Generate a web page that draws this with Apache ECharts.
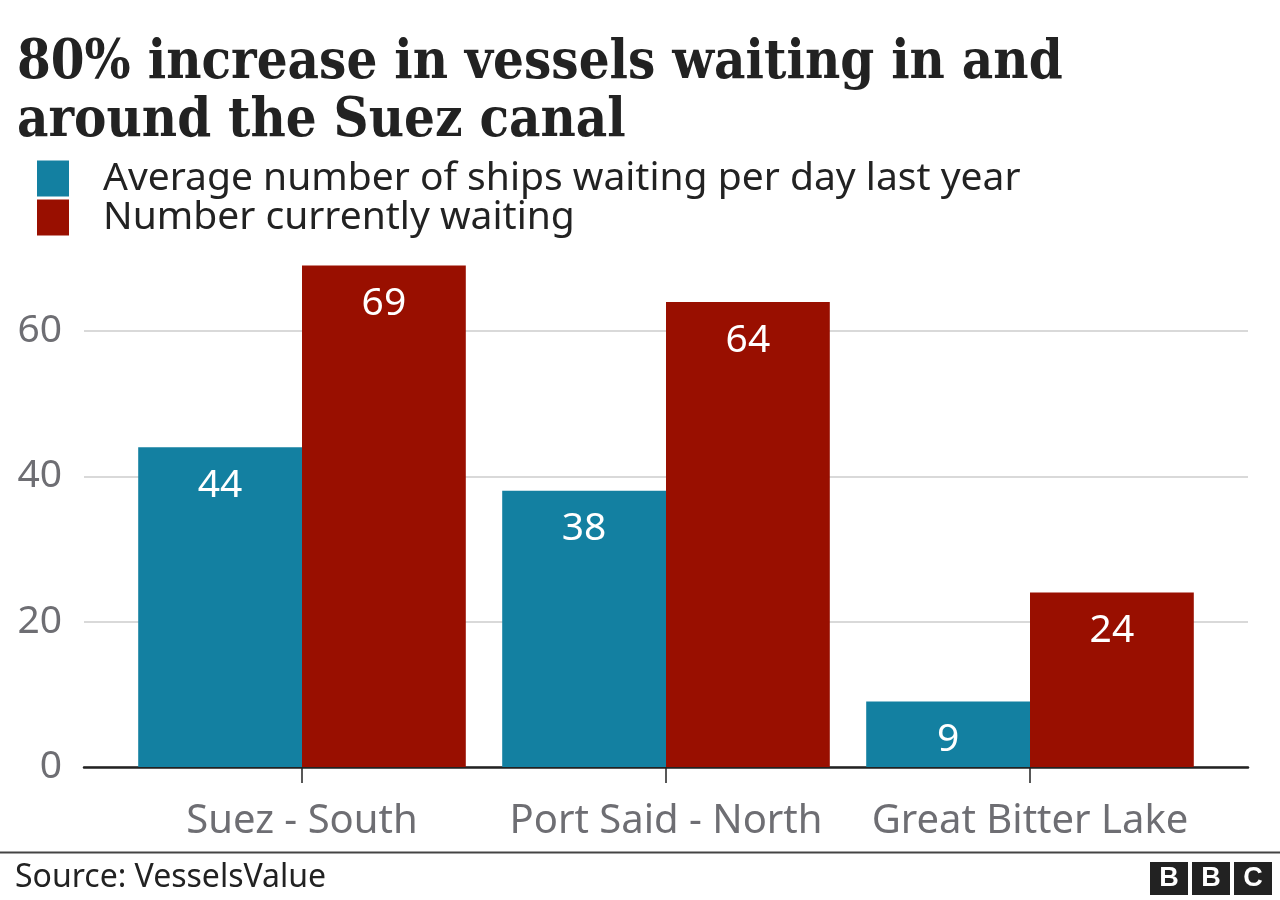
<!DOCTYPE html>
<html>
<head>
<meta charset="utf-8">
<script src="https://cdn.jsdelivr.net/npm/echarts@6/dist/echarts.min.js"></script>
<style>
html,body{margin:0;padding:0;background:#fff;}
#chart{width:1280px;height:900px;}
</style>
</head>
<body>
<div id="chart"></div>
<script>
const categories = ['Suez - South', 'Port Said - North', 'Great Bitter Lake'];
const lastYearAvg = [44, 38, 9];
const currentlyWaiting = [69, 64, 24];
const seriesNames = ['Average number of ships waiting per day last year', 'Number currently waiting'];
const yTicks = [0, 20, 40, 60];

const BLUE = '#1380A1';
const RED = '#990F00';
const SANS = '"Noto Sans", "Liberation Sans", sans-serif';
const SERIF = '"DejaVu Serif Condensed", "DejaVu Serif", serif';

const chart = echarts.init(document.getElementById('chart'), null, {renderer: 'canvas'});

const yMax = 70;
const plotTop = 258.3;
const plotBottom = 133;

const option = {
  animation: false,
  backgroundColor: '#ffffff',
  title: {
    text: '80% increase in vessels waiting in and\naround the Suez canal',
    left: 12,
    top: 30,
    padding: 5,
    textStyle: {
      fontFamily: SERIF,
      fontWeight: 'bold',
      fontSize: 54,
      lineHeight: 58,
      color: '#222222'
    }
  },
  legend: {
    orient: 'vertical',
    left: 37,
    top: 159,
    padding: 0,
    itemWidth: 32,
    itemHeight: 36,
    itemGap: 0,
    icon: 'rect',
    selectedMode: false,
    data: seriesNames,
    textStyle: {
      fontFamily: SANS,
      fontSize: 39,
      lineHeight: 36,
      color: '#222222',
      padding: [0, 0, 0, 29]
    }
  },
  grid: [
    {left: 84, right: 32, top: plotTop, bottom: plotBottom, containLabel: false},
    {left: 120, right: 68, top: plotTop, bottom: plotBottom, containLabel: false}
  ],
  xAxis: [
    {
      gridIndex: 0, type: 'value', min: 0, max: 1,
      axisLine: {show: true, onZero: false, lineStyle: {color: '#222222', width: 2.5}},
      axisTick: {show: false}, axisLabel: {show: false}, splitLine: {show: false}
    },
    {
      gridIndex: 1, type: 'category', data: categories,
      axisLine: {show: false},
      axisTick: {show: true, interval: 0, alignWithLabel: true, length: 16, lineStyle: {color: '#222222', width: 1.5}},
      axisLabel: {interval: 0, fontFamily: SANS, fontSize: 40, color: '#6E6E73', margin: 35},
      splitLine: {show: false}
    }
  ],
  yAxis: [
    {
      gridIndex: 0, type: 'value', min: 0, max: yMax, interval: 20,
      axisLine: {show: false}, axisTick: {show: false},
      axisLabel: {fontFamily: SANS, fontSize: 39, color: '#6E6E73', margin: 22, showMaxLabel: false,
        formatter: v => yTicks.includes(v) ? String(v) : ''},
      splitLine: {show: true, showMaxLine: false, lineStyle: {color: '#CCCCCC', width: 1.5}}
    },
    {
      gridIndex: 1, type: 'value', min: 0, max: yMax, interval: 20, show: false,
      splitLine: {show: false}
    }
  ],
  series: [
    {
      name: seriesNames[0], type: 'bar', xAxisIndex: 1, yAxisIndex: 1,
      data: lastYearAvg, barGap: '0%', barCategoryGap: '10%',
      itemStyle: {color: BLUE},
      label: {show: true, position: 'insideTop', distance: 19, color: '#ffffff', fontFamily: SANS, fontSize: 39}
    },
    {
      name: seriesNames[1], type: 'bar', xAxisIndex: 1, yAxisIndex: 1,
      data: currentlyWaiting, barGap: '0%', barCategoryGap: '10%',
      itemStyle: {color: RED},
      label: {show: true, position: 'insideTop', distance: 19, color: '#ffffff', fontFamily: SANS, fontSize: 39}
    }
  ],
  graphic: [
    {type: 'line', shape: {x1: 0, y1: 852.5, x2: 1280, y2: 852.5}, style: {stroke: '#444444', lineWidth: 2}},
    {type: 'text', left: 15, top: 862, style: {text: 'Source: VesselsValue', font: '32px ' + SANS, fill: '#222222'}},
    {type: 'group', left: 1150, top: 862, children: [
      {type: 'rect', shape: {x: 0, y: 0, width: 38, height: 33}, style: {fill: '#222222'}},
      {type: 'rect', shape: {x: 42, y: 0, width: 38, height: 33}, style: {fill: '#222222'}},
      {type: 'rect', shape: {x: 84, y: 0, width: 38, height: 33}, style: {fill: '#222222'}},
      {type: 'text', x: 19, y: 17, style: {text: 'B', font: 'bold 27px "Liberation Sans", sans-serif', fill: '#ffffff', textAlign: 'center', textVerticalAlign: 'middle'}},
      {type: 'text', x: 61, y: 17, style: {text: 'B', font: 'bold 27px "Liberation Sans", sans-serif', fill: '#ffffff', textAlign: 'center', textVerticalAlign: 'middle'}},
      {type: 'text', x: 103, y: 17, style: {text: 'C', font: 'bold 27px "Liberation Sans", sans-serif', fill: '#ffffff', textAlign: 'center', textVerticalAlign: 'middle'}}
    ]}
  ]
};

chart.setOption(option);
</script>
</body>
</html>
